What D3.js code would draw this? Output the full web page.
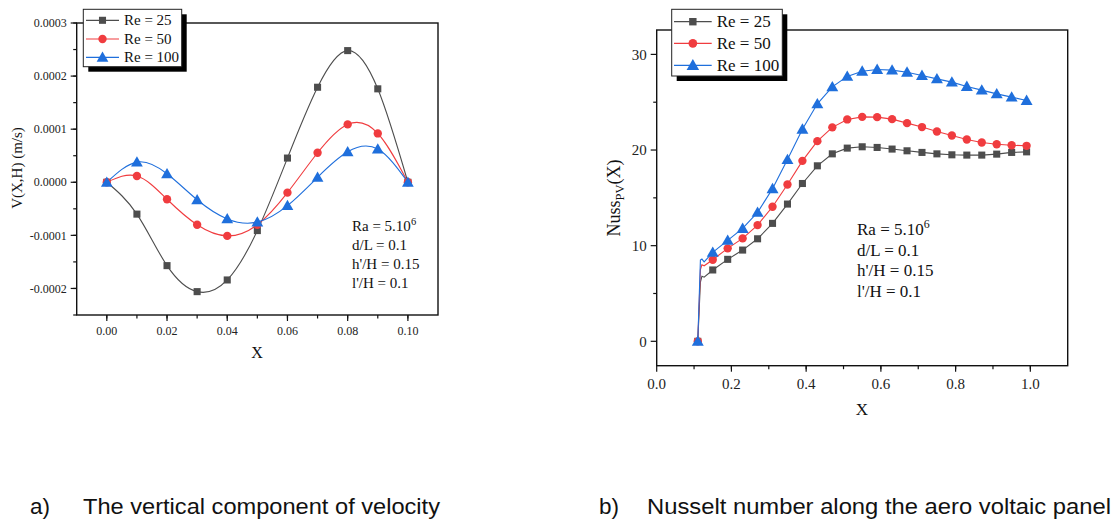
<!DOCTYPE html>
<html>
<head>
<meta charset="utf-8">
<script src="https://cdn.jsdelivr.net/npm/d3@7"></script>
<style>
  body { margin: 0; background: #fff; }
  svg { display: block; }
</style>
</head>
<body>
<svg id="fig" width="1115" height="522"></svg>
<script>
// ---- données ----
const seriesNames = ["Re = 25", "Re = 50", "Re = 100"];
const seriesColors = ["#4d4d4d", "#f03c3f", "#1f6fdc"];

// (a) composante verticale de la vitesse
const velX = [0, 0.01, 0.02, 0.03, 0.04, 0.05, 0.06, 0.07, 0.08, 0.09, 0.10];
const vel25 = [0, -0.00006, -0.000157, -0.000206, -0.000184, -0.000091, 0.0000456, 0.000179, 0.000248, 0.000176, 0];
const vel50 = [0, 0.0000118, -0.000032, -0.00008, -0.000101, -0.00008, -0.0000195, 0.0000556, 0.000109, 0.000092, 0];
const vel100 = [0, 0.000038, 0.000016, -0.000033, -0.000069, -0.000075, -0.000044, 0.0000094, 0.0000574, 0.0000625, 0];
const velXTicks = [0, 0.02, 0.04, 0.06, 0.08, 0.10];
const velYTicks = [-0.0002, -0.0001, 0, 0.0001, 0.0002, 0.0003];

// (b) Nusselt le long du panneau
const nuX = [0.11, 0.15, 0.19, 0.23, 0.27, 0.31, 0.35, 0.39, 0.43, 0.47, 0.51, 0.55,
             0.59, 0.63, 0.67, 0.71, 0.75, 0.79, 0.83, 0.87, 0.91, 0.95, 0.99];
const nu25 = [0, 7.46, 8.57, 9.54, 10.72, 12.33, 14.35, 16.5, 18.35, 19.6, 20.2, 20.34,
              20.27, 20.1, 19.92, 19.75, 19.6, 19.5, 19.47, 19.47, 19.57, 19.75, 19.81];
const nu50 = [0, 8.53, 9.72, 10.76, 12.15, 14.07, 16.4, 18.87, 20.93, 22.37, 23.2, 23.47,
              23.44, 23.23, 22.81, 22.4, 21.94, 21.52, 21.1, 20.79, 20.6, 20.5, 20.44];
const nu100 = [0, 9.3, 10.55, 11.8, 13.48, 15.95, 19.0, 22.18, 24.83, 26.6, 27.7, 28.24,
               28.42, 28.35, 28.14, 27.8, 27.44, 27.1, 26.65, 26.26, 25.87, 25.53, 25.18];
// points de la courbe (sans symbole) dans la montée brusque du début
const nuStartX = [0.117, 0.121, 0.127];
const nuStart25 = [6.2, 6.8, 6.7];
const nuStart50 = [7.5, 8.0, 7.9];
const nuStart100 = [8.5, 8.6, 8.3];
const nuXTicks = [0, 0.2, 0.4, 0.6, 0.8, 1.0];
const nuYTicks = [0, 10, 20, 30];

const annotLines = ["d/L = 0.1", "h'/H = 0.15", "l'/H = 0.1"];

const svg = d3.select("#fig");
const serif = "'Liberation Serif', 'Times New Roman', serif";
const symbols = [d3.symbolSquare, d3.symbolCircle, d3.symbolTriangle];

function drawMarker(g, i, x, y, size) {
    g.append("path")
        .attr("d", d3.symbol().type(symbols[i]).size(size)())
        .attr("transform", `translate(${x},${y + (i === 2 ? 1 : 0)})`)
        .attr("fill", seriesColors[i]);
}

function drawFrame(g, x, y, xTicks, yTicks, xMinor, yMinor, fmtX, fmtY, fs) {
    const [x0, x1] = x.range();
    const [y0, y1] = y.range();
    g.append("rect")
        .attr("x", x0).attr("y", y1)
        .attr("width", x1 - x0).attr("height", y0 - y1)
        .attr("fill", "none").attr("stroke", "#111").attr("stroke-width", 1.4);
    // ticks majeurs et mineurs vers l'extérieur
    xMinor.forEach(v => g.append("line")
        .attr("x1", x(v)).attr("x2", x(v)).attr("y1", y0).attr("y2", y0 + 3.5)
        .attr("stroke", "#111").attr("stroke-width", 1.2));
    yMinor.forEach(v => g.append("line")
        .attr("x1", x0).attr("x2", x0 - 3.5).attr("y1", y(v)).attr("y2", y(v))
        .attr("stroke", "#111").attr("stroke-width", 1.2));
    xTicks.forEach(v => {
        g.append("line").attr("x1", x(v)).attr("x2", x(v)).attr("y1", y0).attr("y2", y0 + 6)
            .attr("stroke", "#111").attr("stroke-width", 1.2);
        g.append("text").attr("x", x(v)).attr("y", y0 + fs + 8)
            .attr("text-anchor", "middle").attr("font-family", serif)
            .attr("font-size", fs).attr("fill", "#222").text(fmtX(v));
    });
    yTicks.forEach(v => {
        g.append("line").attr("x1", x0).attr("x2", x0 - 6).attr("y1", y(v)).attr("y2", y(v))
            .attr("stroke", "#111").attr("stroke-width", 1.2);
        g.append("text").attr("x", x0 - 10).attr("y", y(v)).attr("dy", "0.35em")
            .attr("text-anchor", "end").attr("font-family", serif)
            .attr("font-size", fs).attr("fill", "#222").text(fmtY(v));
    });
}

function drawLegend(g, bx, by, bw, bh, rows, sx0, sx1, fs, msize) {
    g.append("rect").attr("x", bx + 5).attr("y", by + 5).attr("width", bw).attr("height", bh).attr("fill", "#000");
    g.append("rect").attr("x", bx).attr("y", by).attr("width", bw).attr("height", bh)
        .attr("fill", "#fff").attr("stroke", "#222").attr("stroke-width", 1);
    seriesNames.forEach((name, i) => {
        const ry = rows[i];
        g.append("line").attr("x1", sx0).attr("x2", sx1).attr("y1", ry).attr("y2", ry)
            .attr("stroke", seriesColors[i]).attr("stroke-width", 1.2);
        drawMarker(g, i, (sx0 + sx1) / 2, ry, msize[i]);
        g.append("text").attr("x", sx1 + 5).attr("y", ry).attr("dy", "0.33em")
            .attr("font-family", serif).attr("font-size", fs).attr("fill", "#111").text(name);
    });
}

function drawAnnot(g, x, baselines, fs) {
    const t = g.append("text").attr("x", x).attr("y", baselines[0])
        .attr("font-family", serif).attr("font-size", fs).attr("fill", "#111");
    t.append("tspan").text("Ra = 5.10");
    t.append("tspan").attr("dy", -fs * 0.4).attr("font-size", fs * 0.7).text("6");
    annotLines.forEach((s, i) => g.append("text").attr("x", x).attr("y", baselines[i + 1])
        .attr("font-family", serif).attr("font-size", fs).attr("fill", "#111").text(s));
}

// ---------- (a) ----------
{
    const g = svg.append("g");
    const x = d3.scaleLinear().domain([-0.01, 0.11]).range([76.7, 438]);
    const y = d3.scaleLinear().domain([-0.00025, 0.0003]).range([315, 23]);
    const xMinor = d3.range(-1, 12).map(k => k * 0.01).filter(v => v > -0.0099 && v < 0.1099);
    const yMinor = d3.range(-5, 7).map(k => k * 0.00005);
    drawFrame(g, x, y, velXTicks, velYTicks, xMinor, yMinor, d3.format(".2f"),
        v => Math.abs(v) < 1e-12 ? "0.0000" : d3.format(".4f")(v).replace("−", "-"), 12);

    const line = d3.line().x(d => x(d[0])).y(d => y(d[1])).curve(d3.curveNatural);
    [vel25, vel50, vel100].forEach((vals, i) => {
        const pts = velX.map((v, k) => [v, vals[k]]);
        g.append("path").attr("d", line(pts)).attr("fill", "none")
            .attr("stroke", seriesColors[i]).attr("stroke-width", 1.1);
    });
    [vel25, vel50, vel100].forEach((vals, i) => {
        velX.forEach((v, k) => drawMarker(g, i, x(v), y(vals[k]), [50, 55, 60][i]));
    });

    g.append("text").attr("x", 257).attr("y", 358).attr("text-anchor", "middle")
        .attr("font-family", serif).attr("font-size", 16).attr("fill", "#111").text("X");
    g.append("text").attr("transform", "translate(22,168) rotate(-90)").attr("text-anchor", "middle")
        .attr("font-family", serif).attr("font-size", 15).attr("fill", "#111").text("V(X,H) (m/s)");

    drawAnnot(g, 352, [231, 250, 269, 288], 15);
    drawLegend(g, 83.3, 9.3, 98.4, 57.4, [20.3, 39, 57.3], 86, 119, 15, [50, 55, 60]);
}

// ---------- (b) ----------
{
    const g = svg.append("g");
    const x = d3.scaleLinear().domain([0, 1.1]).range([656.7, 1067.7]);
    const y = d3.scaleLinear().domain([-2.55, 32.55]).range([365.7, 30]);
    const xMinor = d3.range(1, 11).map(k => k * 0.1);
    const yMinor = [5, 15, 25];
    drawFrame(g, x, y, nuXTicks, nuYTicks, xMinor, yMinor, d3.format(".1f"), d3.format("d"), 15);

    const line = d3.line().x(d => x(d[0])).y(d => y(d[1]));
    const starts = [nuStart25, nuStart50, nuStart100];
    [nu25, nu50, nu100].forEach((vals, i) => {
        const pts = nuX.map((v, k) => [v, vals[k]])
            .concat(nuStartX.map((v, k) => [v, starts[i][k]]))
            .sort((a, b) => a[0] - b[0]);
        g.append("path").attr("d", line(pts)).attr("fill", "none")
            .attr("stroke", seriesColors[i]).attr("stroke-width", 1.1);
    });
    [nu25, nu50, nu100].forEach((vals, i) => {
        nuX.forEach((v, k) => drawMarker(g, i, x(v), y(vals[k]), [50, 55, 62][i]));
    });

    g.append("text").attr("x", 862).attr("y", 415).attr("text-anchor", "middle")
        .attr("font-family", serif).attr("font-size", 17).attr("fill", "#111").text("X");
    const yl = g.append("text").attr("transform", "translate(620,198) rotate(-90)").attr("text-anchor", "middle")
        .attr("font-family", serif).attr("font-size", 18).attr("fill", "#111");
    yl.append("tspan").text("Nuss");
    yl.append("tspan").attr("dy", 4).attr("font-size", 12.5).text("PV");
    yl.append("tspan").attr("dy", -4).text("(X)");

    drawAnnot(g, 857, [235, 255.5, 276, 296.5], 17);
    drawLegend(g, 671.7, 9.3, 110.6, 66.7, [21.7, 43.3, 65.3], 674, 711.7, 17, [55, 60, 68]);
}

// ---------- légendes des sous-figures ----------
const sans = "'Liberation Sans', Arial, sans-serif";
[["a)", 30, "The vertical component of velocity", 83, 357],
 ["b)", 599, "Nusselt number along the aero voltaic panel", 647, 464]].forEach(c => {
    svg.append("text").attr("x", c[1]).attr("y", 514).attr("font-family", sans)
        .attr("font-size", 22.5).attr("fill", "#111").text(c[0]);
    svg.append("text").attr("x", c[3]).attr("y", 514).attr("font-family", sans)
        .attr("font-size", 22.5).attr("fill", "#111")
        .attr("textLength", c[4]).attr("lengthAdjust", "spacingAndGlyphs").text(c[2]);
});
</script>
</body>
</html>
